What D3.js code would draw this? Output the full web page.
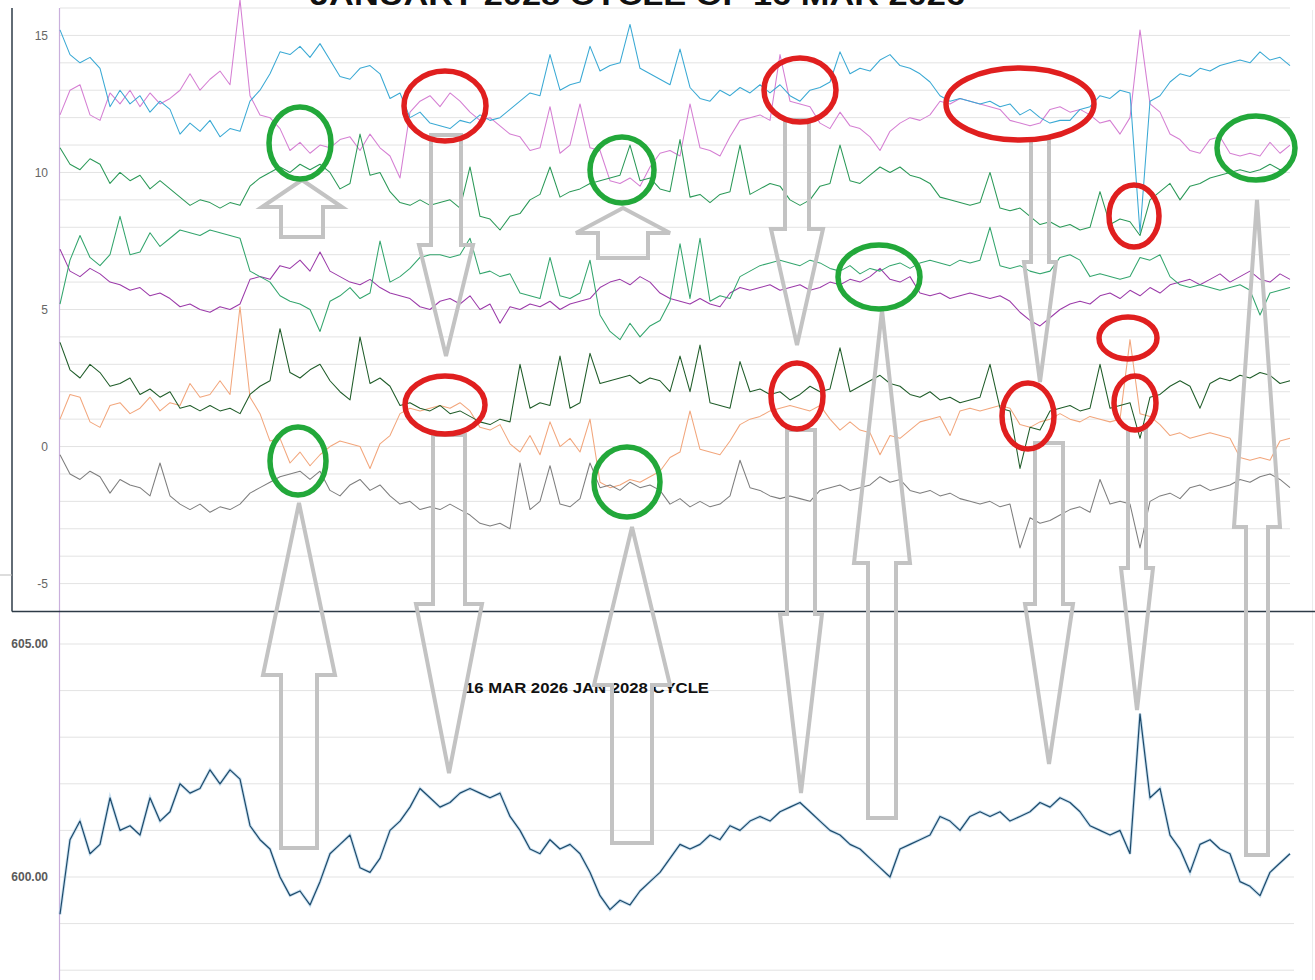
<!DOCTYPE html>
<html><head><meta charset="utf-8">
<script src="https://cdn.jsdelivr.net/npm/d3@7"></script>
<style>html,body{margin:0;padding:0;background:#fff;overflow:hidden}svg{display:block}</style>
</head><body>
<svg id="chart" width="1315" height="980"></svg>
<script>
// ---------- DATA ----------
const titleTop = "JANUARY 2028 CYCLE OF 16 MAR 2026";
const titleBottom = "16 MAR 2026 JAN 2028 CYCLE";
const topTicks = [15, 10, 5, 0, -5];
const bottomTicks = [605, 600];

const cyanSeries = [15.2,14.3,14.0,14.2,13.8,12.4,13.0,12.5,12.8,12.2,
12.6,12.3,11.4,11.8,11.5,11.9,11.3,11.6,11.5,12.6,
13.0,13.6,14.4,14.3,14.6,14.2,14.7,14.1,13.5,13.4,
13.8,13.9,13.6,12.7,12.9,12.0,12.2,11.8,11.7,11.6,
11.9,11.8,12.1,11.9,12.0,12.3,12.6,12.9,12.8,14.3,
13.0,13.2,13.3,14.6,13.7,13.9,14.0,15.4,13.8,13.6,
13.4,13.2,14.5,13.1,12.7,12.6,13.0,12.8,13.1,12.9,
13.2,12.9,13.2,12.8,12.6,13.0,13.1,13.3,14.4,13.6,
13.8,13.7,14.1,14.3,13.9,13.8,13.6,13.3,12.8,12.6,
12.7,12.6,12.5,12.6,12.4,12.5,12.1,12.3,12.0,11.8,
11.9,11.9,12.3,12.4,12.8,12.7,13.0,12.9,7.8,12.6,
12.8,13.3,13.6,13.5,13.8,13.7,13.9,14.0,14.1,14.0,
14.4,14.1,14.2,13.9];

const pinkSeries = [12.1,13.0,13.2,12.1,11.9,12.9,12.5,13.0,12.4,12.9,
12.5,12.7,13.0,13.6,13.0,13.4,13.7,13.2,16.3,12.8,
12.1,12.0,11.6,10.8,11.1,10.7,11.0,10.9,11.2,11.3,
10.8,11.4,10.9,10.6,9.8,12.2,12.6,12.8,12.4,12.9,
12.6,12.2,11.9,12.0,11.7,11.4,11.3,10.8,10.9,12.4,
10.7,11.0,12.5,10.9,10.8,9.7,9.6,9.8,9.5,10.2,
10.7,10.8,10.6,12.5,10.9,10.8,10.6,11.3,11.9,12.0,
12.1,11.9,14.3,12.6,12.5,12.4,11.8,11.6,12.2,11.7,
11.6,11.3,10.8,11.5,11.8,12.0,11.9,12.1,12.6,12.5,
12.7,12.6,12.5,12.4,12.3,11.9,11.8,11.7,11.8,12.3,
12.4,12.2,12.3,12.1,11.8,11.9,11.4,12.0,15.2,12.5,
12.2,11.4,11.2,10.8,10.7,11.2,11.3,10.7,10.6,10.7,
10.6,11.1,10.7,11.0];

const greenUpperSeries = [10.9,10.3,10.1,10.5,10.3,9.6,10.0,9.7,9.9,9.4,
9.7,9.4,9.1,8.8,9.0,8.9,8.7,8.9,8.8,9.5,
9.8,10.0,10.2,10.0,10.3,10.1,10.3,10.0,9.4,9.6,
11.4,9.9,10.0,9.3,8.9,8.8,9.0,8.8,8.9,9.0,
8.7,10.2,8.4,8.3,7.9,8.4,8.5,9.0,9.2,10.2,
9.1,9.3,9.4,9.6,9.7,9.8,9.9,11.0,9.7,9.8,
9.4,9.3,11.2,9.1,9.2,8.9,9.2,9.3,11.0,9.2,
9.4,9.6,9.5,9.0,8.8,9.0,9.5,9.6,11.0,9.7,
9.6,9.9,10.2,10.0,10.2,9.9,9.8,9.6,9.1,9.0,
8.9,8.8,8.9,10.0,8.7,8.6,8.7,8.4,8.1,8.2,
8.0,8.1,7.9,8.0,9.3,8.1,8.3,8.2,7.7,9.0,
9.3,9.6,9.0,9.5,9.6,9.8,9.9,10.0,10.1,10.0,
10.1,10.3,10.1,10.2];

const seaGreenSeries = [5.2,6.8,7.7,6.9,6.6,7.0,8.4,7.0,7.1,7.8,
7.3,7.6,7.9,7.8,7.7,7.9,7.8,7.7,7.6,6.4,
6.2,6.0,5.5,5.3,5.2,5.0,4.2,5.3,5.5,5.8,
5.4,5.6,7.5,6.0,6.2,6.5,6.9,7.0,7.0,6.9,
7.0,7.6,6.3,6.4,6.2,6.3,5.6,5.5,5.4,6.9,
5.5,5.4,5.6,6.8,4.8,4.2,3.9,4.5,4.0,4.4,
4.6,5.3,7.4,5.4,7.6,5.3,5.5,5.4,6.2,6.4,
6.6,6.7,6.8,6.7,6.6,6.8,6.7,6.5,6.4,6.6,
6.3,6.5,6.4,6.6,6.7,6.5,6.7,6.8,6.7,6.6,
6.8,6.7,6.8,8.0,6.6,6.5,6.6,6.4,6.3,6.4,
6.9,7.0,6.8,6.2,6.3,6.2,6.1,6.2,6.9,6.8,
7.0,6.2,5.9,5.8,5.9,5.8,5.7,5.8,5.9,5.7,
4.8,5.6,5.7,5.8];

const purpleSeries = [7.2,6.4,6.2,6.5,6.3,6.0,5.9,5.7,5.8,5.5,
5.6,5.4,5.1,5.2,5.0,4.9,5.1,5.0,5.2,6.1,
6.2,6.1,6.6,6.5,6.8,6.4,7.1,6.4,6.2,6.0,
5.9,6.1,5.8,5.6,5.5,5.4,5.1,5.0,5.3,5.4,
5.2,5.5,5.0,5.2,4.5,5.1,5.0,5.2,5.1,5.3,
5.0,5.2,5.3,5.4,5.8,6.0,6.1,5.9,6.2,6.0,
5.6,5.4,5.3,5.2,5.4,5.2,5.1,5.6,5.8,5.7,
5.8,5.9,5.7,5.8,5.9,5.7,5.8,6.0,5.9,6.1,
6.0,6.2,6.5,6.1,6.0,6.2,5.6,5.5,5.6,5.4,
5.5,5.6,5.5,5.4,5.5,5.3,4.9,4.6,4.4,4.7,
5.0,5.2,5.3,5.2,5.5,5.6,5.4,5.7,5.5,5.8,
5.6,5.9,6.0,6.1,5.9,6.1,6.3,6.0,6.2,6.4,
6.1,6.0,6.3,6.1];

const darkGreenSeries = [3.8,2.8,2.5,3.0,2.7,2.2,2.3,2.5,1.9,2.1,
1.8,2.0,1.4,1.5,1.3,1.5,1.3,1.4,1.2,1.9,
2.2,2.4,4.3,2.7,2.5,2.8,3.0,2.4,2.0,1.7,
4.0,2.3,2.5,2.2,1.5,1.6,1.4,1.3,1.5,1.2,
1.3,1.1,0.9,0.8,1.0,0.9,3.0,1.4,1.6,1.5,
3.3,1.4,1.6,3.4,2.3,2.4,2.5,2.6,2.3,2.5,
2.4,2.0,3.3,2.0,3.7,1.6,1.5,1.4,3.1,2.0,
2.1,1.9,2.0,1.7,1.9,2.2,2.0,2.1,3.6,2.0,
2.2,2.4,2.6,2.3,2.2,1.9,1.8,2.0,1.7,1.8,
1.6,1.7,1.8,3.0,1.4,1.3,-0.8,0.7,0.6,1.3,
1.4,1.5,1.3,1.4,3.0,1.4,1.5,1.6,0.3,1.8,
1.9,2.2,2.4,2.2,1.4,2.3,2.5,2.4,2.6,2.5,
2.7,2.6,2.3,2.4];

const orangeSeries = [1.0,1.9,1.8,0.9,0.7,1.5,1.6,1.2,1.4,1.8,
1.3,1.6,1.5,2.3,1.8,1.9,2.4,1.9,5.1,1.8,
1.2,0.2,0.3,-0.6,-0.2,-0.7,-0.3,0.0,0.2,0.1,
0.0,-0.8,0.1,0.4,1.2,1.4,1.3,1.4,1.5,1.4,
1.6,1.3,0.7,0.6,0.8,0.1,-0.2,0.4,-0.3,0.9,
0.0,0.3,-0.2,1.0,-1.3,-1.5,-1.4,-1.2,-1.3,-1.1,
-0.9,-0.4,-0.2,1.3,-0.1,-0.2,-0.3,0.2,0.8,1.0,
1.1,1.3,1.4,1.5,1.4,1.3,1.5,1.0,0.6,0.9,
0.6,0.5,-0.3,0.4,0.3,0.6,0.9,1.0,1.1,0.4,
1.3,1.4,1.3,1.4,1.5,1.4,0.8,0.7,0.9,1.0,
1.2,1.0,0.9,1.1,1.0,0.9,1.0,3.9,1.2,1.1,
0.8,0.4,0.5,0.3,0.4,0.5,0.4,0.3,-0.4,-0.5,
-0.4,-0.5,0.2,0.3];

const graySeries = [-0.3,-1.0,-1.2,-0.9,-1.1,-1.7,-1.2,-1.4,-1.5,-1.8,
-0.6,-1.8,-2.1,-2.3,-2.1,-2.4,-2.2,-2.3,-2.1,-1.7,
-1.5,-1.3,-1.1,-1.0,-0.9,-1.2,-0.9,-1.6,-1.8,-1.4,
-1.2,-1.6,-1.4,-1.8,-2.1,-2.0,-2.3,-2.2,-2.3,-2.1,
-2.3,-2.5,-2.8,-2.9,-2.8,-3.0,-0.6,-2.3,-2.0,-0.7,
-2.1,-2.2,-1.9,-0.6,-1.5,-1.4,-1.6,-1.3,-1.5,-1.4,
-1.6,-2.1,-1.9,-2.2,-2.0,-2.2,-2.1,-1.8,-0.5,-1.5,
-1.6,-1.8,-1.9,-1.8,-1.9,-2.0,-1.6,-1.5,-1.4,-1.6,
-1.5,-1.4,-1.1,-1.3,-1.2,-1.6,-1.7,-1.6,-1.8,-1.7,
-1.9,-2.0,-2.1,-2.0,-2.2,-2.1,-3.7,-2.6,-2.8,-2.7,
-2.5,-2.3,-2.2,-2.4,-1.2,-2.1,-2.0,-2.1,-3.7,-2.0,
-1.8,-1.7,-1.9,-1.5,-1.4,-1.6,-1.5,-1.4,-1.2,-1.3,
-1.1,-1.0,-1.2,-1.5];

const navySeries = [599.2,600.8,601.2,600.5,600.7,601.7,601.0,601.1,600.9,601.7,
601.2,601.4,602.0,601.8,601.9,602.3,602.0,602.3,602.1,601.1,
600.8,600.6,600.0,599.6,599.7,599.4,599.9,600.5,600.7,600.9,
600.2,600.1,600.4,601.0,601.2,601.5,601.9,601.7,601.5,601.6,
601.8,601.9,601.8,601.7,601.8,601.3,601.0,600.6,600.5,600.8,
600.6,600.7,600.5,600.1,599.6,599.3,599.5,599.4,599.7,599.9,
600.1,600.4,600.7,600.6,600.7,600.9,600.8,601.1,601.0,601.2,
601.3,601.2,601.4,601.5,601.6,601.4,601.2,601.0,600.9,600.7,
600.6,600.4,600.2,600.0,600.6,600.7,600.8,600.9,601.3,601.2,
601.0,601.3,601.4,601.3,601.4,601.2,601.3,601.4,601.6,601.5,
601.7,601.6,601.4,601.1,601.0,600.9,601.0,600.5,603.5,601.7,
601.9,600.9,600.6,600.1,600.7,600.8,600.6,600.5,599.9,599.8,
599.6,600.1,600.3,600.5];

// ---------- STYLE / LAYOUT ----------
const W = 1315, H = 980;
const plotLeft = 60, plotRight = 1290;
const svg = d3.select("#chart");

const topSeries = [
  {data: pinkSeries, color: "#d57fd3", w: 1.05},
  {data: cyanSeries, color: "#3aa9d4", w: 1.05},
  {data: greenUpperSeries, color: "#2b9958", w: 1.05},
  {data: purpleSeries, color: "#9b3aa9", w: 1.05},
  {data: seaGreenSeries, color: "#33a56d", w: 1.05},
  {data: orangeSeries, color: "#f2a67c", w: 1.05},
  {data: graySeries, color: "#7e7e7e", w: 1.05},
  {data: darkGreenSeries, color: "#1f5c29", w: 1.05}
];

const n = cyanSeries.length;
const x = d3.scaleLinear().domain([0, n - 1]).range([plotLeft, plotRight]);
const yTop = d3.scaleLinear().domain([-6, 16]).range([611, 8]);
const yBot = d3.scaleLinear().domain([600, 605]).range([877, 644]);

// gridlines top
const gTop = svg.append("g");
gTop.selectAll("line.grid").data(d3.range(-5, 17)).enter().append("line")
  .attr("x1", plotLeft).attr("x2", plotRight)
  .attr("y1", d => yTop(d)).attr("y2", d => yTop(d))
  .attr("stroke", "#e3e3e3").attr("stroke-width", 1);

// gridlines bottom
const gBot = svg.append("g");
gBot.selectAll("line.grid").data(d3.range(598, 606)).enter().append("line")
  .attr("x1", plotLeft).attr("x2", plotRight + 4)
  .attr("y1", d => yBot(d)).attr("y2", d => yBot(d))
  .attr("stroke", "#e3e3e3").attr("stroke-width", 1);

// tick labels via axes
const axTop = svg.append("g").attr("transform", `translate(${plotLeft - 12},0)`)
  .call(d3.axisLeft(yTop).tickValues(topTicks).tickSize(0).tickPadding(0).tickFormat(d => String(d)));
axTop.select(".domain").remove();
axTop.selectAll("text").attr("font-family", "Arial, Liberation Sans, sans-serif").attr("font-size", 12).attr("fill", "#666");

const axBot = svg.append("g").attr("transform", `translate(${plotLeft - 12},0)`)
  .call(d3.axisLeft(yBot).tickValues(bottomTicks).tickSize(0).tickPadding(0).tickFormat(d => d.toFixed(2)));
axBot.select(".domain").remove();
axBot.selectAll("text").attr("font-family", "Arial, Liberation Sans, sans-serif").attr("font-size", 12)
  .attr("font-weight", "bold").attr("fill", "#5a5a5a");

// vertical axis line (light purple)
svg.append("line").attr("x1", plotLeft - 0.5).attr("x2", plotLeft - 0.5).attr("y1", 8).attr("y2", H)
  .attr("stroke", "#c9b0dc").attr("stroke-width", 1.2);
// faint right border
svg.append("line").attr("x1", 1312.5).attr("x2", 1312.5).attr("y1", 10).attr("y2", H)
  .attr("stroke", "#ececec").attr("stroke-width", 1);

// top series lines
const lineTop = d3.line().x((d, i) => x(i)).y(d => yTop(d));
svg.append("g").selectAll("path").data(topSeries).enter().append("path")
  .attr("d", d => lineTop(d.data)).attr("fill", "none")
  .attr("stroke", d => d.color).attr("stroke-width", d => d.w).attr("stroke-linejoin", "round");

// bottom series
const lineBot = d3.line().x((d, i) => x(i)).y(d => yBot(d));
svg.append("path").attr("d", lineBot(navySeries)).attr("fill", "none")
  .attr("stroke", "#9fc7e3").attr("stroke-width", 3).attr("stroke-opacity", 0.55);
svg.append("path").attr("d", lineBot(navySeries)).attr("fill", "none")
  .attr("stroke", "#1d4a6a").attr("stroke-width", 1.2).attr("stroke-linejoin", "round");

// top panel frame (left + bottom)
svg.append("line").attr("x1", 12).attr("x2", 12).attr("y1", 8).attr("y2", 611.5)
  .attr("stroke", "#2e3b47").attr("stroke-width", 1.5);
svg.append("line").attr("x1", 12).attr("x2", W).attr("y1", 611.5).attr("y2", 611.5)
  .attr("stroke", "#2e3b47").attr("stroke-width", 1.5);
svg.append("line").attr("x1", 0).attr("x2", 12).attr("y1", 575).attr("y2", 575)
  .attr("stroke", "#bbb").attr("stroke-width", 1);

// titles (the top one is cropped by the top edge in the reference)
svg.append("text").text(titleTop).attr("x", 310).attr("y", 5)
  .attr("font-family", "Arial, Liberation Sans, sans-serif").attr("font-weight", "bold")
  .attr("font-size", 30).attr("fill", "#111").attr("textLength", 655).attr("lengthAdjust", "spacingAndGlyphs");
svg.append("text").text(titleBottom).attr("x", 465).attr("y", 693)
  .attr("font-family", "Arial, Liberation Sans, sans-serif").attr("font-weight", "bold")
  .attr("font-size", 15).attr("fill", "#111").attr("textLength", 244).attr("lengthAdjust", "spacingAndGlyphs");

// ---------- ANNOTATIONS (hand-drawn overlay in pixel space) ----------
const arrows = [
  {cx: 302, tip: 180, head: 207, base: 237, hh: 40, sh: 21},
  {cx: 623, tip: 208, head: 233, base: 258, hh: 47, sh: 25},
  {cx: 446, tip: 356, head: 245, base: 135, hh: 27, sh: 15},
  {cx: 797, tip: 345, head: 229, base: 120, hh: 26, sh: 12},
  {cx: 1040, tip: 382, head: 262, base: 139, hh: 16, sh: 9},
  {cx: 299, tip: 503, head: 675, base: 848, hh: 36, sh: 18},
  {cx: 449, tip: 773, head: 604, base: 435, hh: 33, sh: 16},
  {cx: 632, tip: 527, head: 685, base: 843, hh: 38, sh: 20},
  {cx: 801, tip: 793, head: 614, base: 430, hh: 21, sh: 14},
  {cx: 882, tip: 310, head: 563, base: 818, hh: 28, sh: 14},
  {cx: 1049, tip: 764, head: 604, base: 443, hh: 24, sh: 14},
  {cx: 1137, tip: 710, head: 568, base: 430, hh: 16, sh: 9},
  {cx: 1257, tip: 200, head: 527, base: 855, hh: 23, sh: 11}
];
const arrowPts = a => [[a.cx, a.tip], [a.cx + a.hh, a.head], [a.cx + a.sh, a.head], [a.cx + a.sh, a.base],
  [a.cx - a.sh, a.base], [a.cx - a.sh, a.head], [a.cx - a.hh, a.head]];
svg.append("g").selectAll("polygon").data(arrows).enter().append("polygon")
  .attr("points", d => arrowPts(d).map(p => p.join(",")).join(" "))
  .attr("fill", "none").attr("stroke", "#c3c3c3").attr("stroke-width", 4).attr("stroke-linejoin", "miter");

const redEllipses = [
  {cx: 445, cy: 106, rx: 41, ry: 35}, {cx: 800, cy: 90, rx: 36, ry: 32},
  {cx: 1020, cy: 104, rx: 74, ry: 36}, {cx: 1134, cy: 216, rx: 25, ry: 31},
  {cx: 1128, cy: 338, rx: 29, ry: 21}, {cx: 1135, cy: 403, rx: 21, ry: 27},
  {cx: 1028, cy: 416, rx: 26, ry: 33}, {cx: 797, cy: 396, rx: 26, ry: 33},
  {cx: 445, cy: 405, rx: 40, ry: 29}
];
const greenEllipses = [
  {cx: 300, cy: 143, rx: 31, ry: 36}, {cx: 622, cy: 170, rx: 32, ry: 33},
  {cx: 879, cy: 277, rx: 41, ry: 32}, {cx: 1256, cy: 148, rx: 39, ry: 32},
  {cx: 298, cy: 461, rx: 28, ry: 34}, {cx: 627, cy: 482, rx: 33, ry: 35}
];
svg.append("g").selectAll("ellipse").data(redEllipses).enter().append("ellipse")
  .attr("cx", d => d.cx).attr("cy", d => d.cy).attr("rx", d => d.rx).attr("ry", d => d.ry)
  .attr("fill", "none").attr("stroke", "#e01f1f").attr("stroke-width", 5.5);
svg.append("g").selectAll("ellipse").data(greenEllipses).enter().append("ellipse")
  .attr("cx", d => d.cx).attr("cy", d => d.cy).attr("rx", d => d.rx).attr("ry", d => d.ry)
  .attr("fill", "none").attr("stroke", "#22a83a").attr("stroke-width", 5.5);
</script>
</body></html>
